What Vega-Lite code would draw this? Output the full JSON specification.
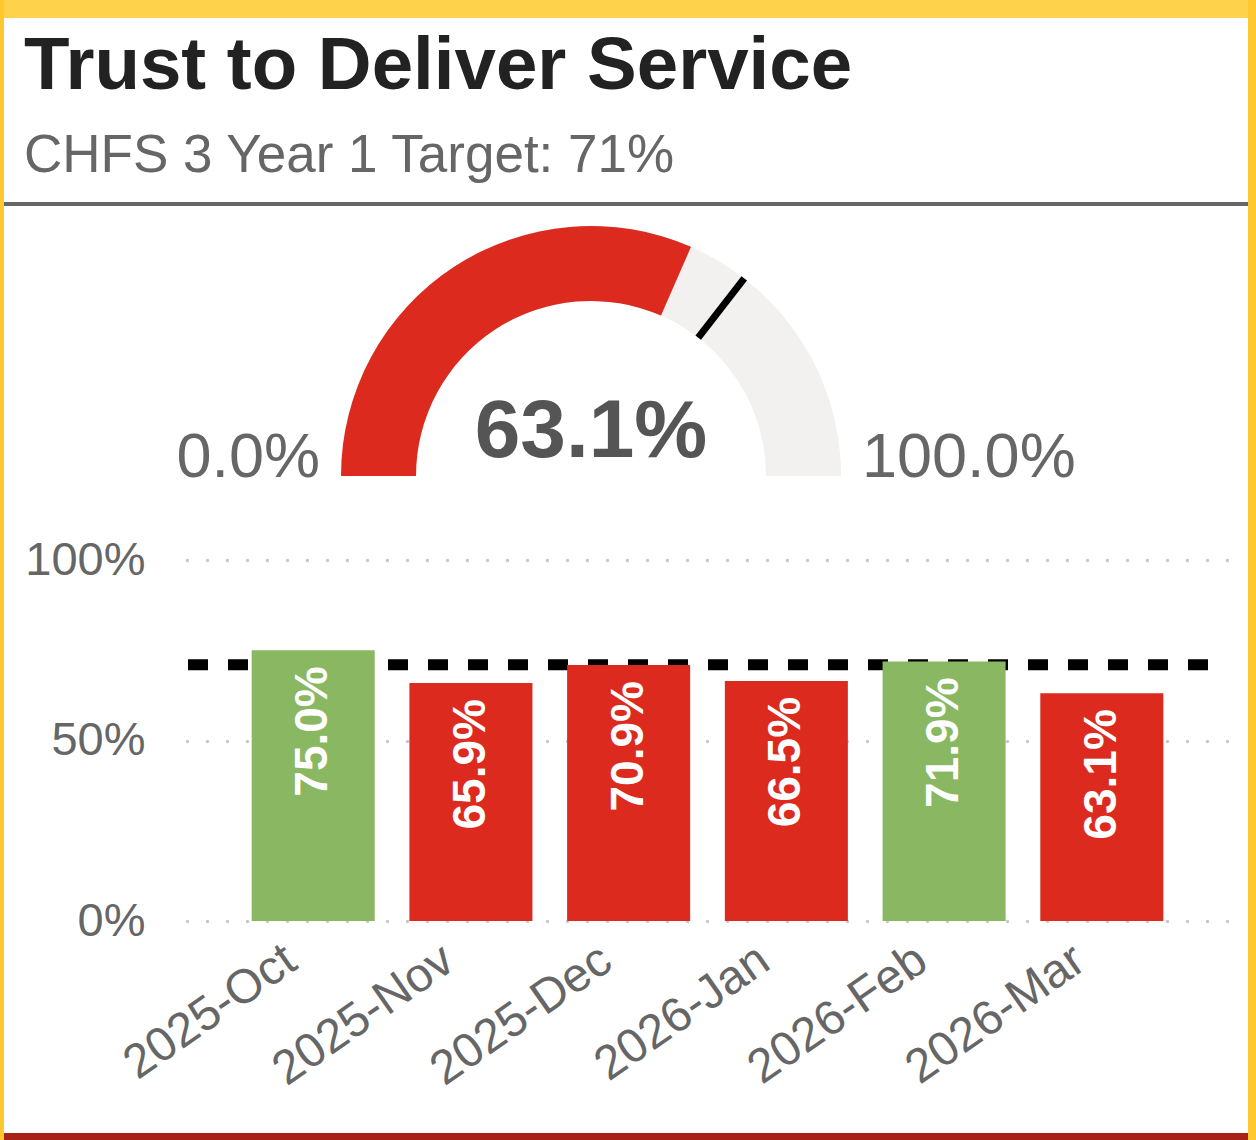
{
  "$schema": "https://vega.github.io/schema/vega-lite/v6.json",
  "padding": 0,
  "background": "#ffffff",
  "spacing": 0,
  "config": {
    "view": {"stroke": null},
    "font": "Liberation Sans",
    "concat": {"spacing": 0}
  },
  "datasets": {
    "gauge": [{"min": 0, "max": 1, "value": 0.631, "target": 0.71}],
    "monthly": [
      {"month": "2025-Oct", "value": 0.750},
      {"month": "2025-Nov", "value": 0.659},
      {"month": "2025-Dec", "value": 0.709},
      {"month": "2026-Jan", "value": 0.665},
      {"month": "2026-Feb", "value": 0.719},
      {"month": "2026-Mar", "value": 0.631}
    ],
    "blank": [{}]
  },
  "hconcat": [
    {
      "width": 4, "height": 1140,
      "data": {"name": "blank"},
      "mark": {"type": "point", "filled": true, "size": 0.01, "opacity": 0},
      "view": {"fill": "#FFC830", "stroke": null}
    },
    {
      "spacing": 0,
      "vconcat": [
        {
          "width": 1244, "height": 18,
          "data": {"name": "blank"},
          "mark": {"type": "point", "filled": true, "size": 0.01, "opacity": 0},
          "view": {"fill": "#FFD24C", "stroke": null}
        },
        {
          "width": 1244, "height": 184,
          "data": {"name": "blank"},
          "title": {
            "text": "Trust to Deliver Service",
            "subtitle": "CHFS 3 Year 1 Target: 71%",
            "anchor": "start",
            "frame": "group",
            "orient": "top",
            "baseline": "top",
            "offset": -166,
            "dx": 20,
            "font": "Liberation Sans",
            "fontSize": 74.5,
            "fontWeight": "bold",
            "color": "#222222",
            "subtitleFont": "Liberation Sans",
            "subtitleFontSize": 53,
            "subtitleColor": "#666666",
            "subtitlePadding": 26
          },
          "mark": {"type": "point", "filled": true, "size": 0.01, "opacity": 0}
        },
        {
          "width": 1244, "height": 4,
          "data": {"name": "blank"},
          "mark": {"type": "point", "filled": true, "size": 0.01, "opacity": 0},
          "view": {"fill": "#666666", "stroke": null}
        },
        {
          "width": 1244, "height": 294,
          "data": {"name": "gauge"},
          "encoding": {
            "x": {"datum": 0, "type": "quantitative", "scale": {"domain": [-1, 1], "range": [337, 837], "nice": false, "zero": false}, "axis": null},
            "y": {"datum": 0, "type": "quantitative", "scale": {"domain": [0, 1], "range": [270, 20], "nice": false, "zero": false}, "axis": null}
          },
          "layer": [
            {
              "mark": {"type": "arc", "outerRadius": 250, "innerRadius": 175, "color": "#F2F1F0"},
              "encoding": {
                "theta": {"field": "min", "type": "quantitative", "scale": {"domain": [0, 1], "range": [-1.5707963, 1.5707963]}},
                "theta2": {"field": "max"}
              }
            },
            {
              "mark": {"type": "arc", "outerRadius": 250, "innerRadius": 175, "color": "#DC2A1E"},
              "encoding": {
                "theta": {"field": "min", "type": "quantitative"},
                "theta2": {"field": "value"}
              }
            },
            {
              "mark": {"type": "arc", "outerRadius": 250, "innerRadius": 175, "filled": false, "color": "#000000", "strokeWidth": 7},
              "encoding": {
                "theta": {"field": "target", "type": "quantitative"},
                "theta2": {"field": "target"}
              }
            },
            {
              "mark": {"type": "text", "fontSize": 82, "fontWeight": "bold", "color": "#555555", "align": "center", "baseline": "alphabetic", "dy": -19},
              "encoding": {"text": {"field": "value", "type": "quantitative", "format": ".1%"}}
            },
            {
              "mark": {"type": "text", "fontSize": 63, "color": "#666666", "align": "right", "baseline": "alphabetic", "dx": -21, "dy": 1},
              "encoding": {
                "x": {"datum": -1, "type": "quantitative"},
                "text": {"field": "min", "type": "quantitative", "format": ".1%"}
              }
            },
            {
              "mark": {"type": "text", "fontSize": 63, "color": "#666666", "align": "left", "baseline": "alphabetic", "dx": 21, "dy": 1},
              "encoding": {
                "x": {"datum": 1, "type": "quantitative"},
                "text": {"field": "max", "type": "quantitative", "format": ".1%"}
              }
            }
          ]
        },
        {
          "spacing": 0,
          "bounds": "flush",
          "hconcat": [
            {
              "width": 183, "height": 633,
              "data": {"name": "blank"},
              "mark": {"type": "point", "filled": true, "size": 0.01, "opacity": 0}
            },
            {
              "width": 1041, "height": 633,
              "layer": [
                {
                  "data": {"name": "gauge"},
                  "mark": {"type": "rule", "color": "#000000", "strokeWidth": 11, "strokeDash": [20, 20], "strokeDashOffset": 20},
                  "encoding": {
                    "y": {
                      "field": "target", "type": "quantitative",
                      "scale": {"domain": [0, 1], "range": [421, 60], "nice": false, "zero": false},
                      "axis": {
                        "values": [0, 0.5, 1],
                        "format": ".0%",
                        "title": null,
                        "domain": false,
                        "ticks": false,
                        "tickSize": 0,
                        "labelPadding": 42,
                        "labelFontSize": 47,
                        "labelColor": "#666666",
                        "labelFont": "Liberation Sans",
                        "labelOverlap": false,
                        "grid": true,
                        "gridColor": "#c8c8c8",
                        "gridWidth": 3.5,
                        "gridDash": [0, 20],
                        "gridCap": "round"
                      }
                    }
                  }
                },
                {
                  "data": {"name": "monthly"},
                  "mark": {"type": "bar"},
                  "encoding": {
                    "x": {
                      "field": "month", "type": "ordinal", "sort": null,
                      "scale": {"paddingInner": 0.22, "paddingOuter": 0.41},
                      "axis": {
                        "title": null,
                        "domain": false,
                        "ticks": false,
                        "tickSize": 0,
                        "offset": -212,
                        "labelAngle": -35,
                        "labelAlign": "right",
                        "labelBaseline": "bottom",
                        "labelPadding": 54,
                        "labelOffset": -8,
                        "labelFontSize": 48,
                        "labelLimit": 0,
                        "labelColor": "#666666",
                        "labelFont": "Liberation Sans",
                        "labelOverlap": false
                      }
                    },
                    "y": {"field": "value", "type": "quantitative"},
                    "color": {
                      "condition": {"test": "datum.value >= 0.71", "value": "#8AB862"},
                      "value": "#DC2A1E"
                    }
                  }
                },
                {
                  "data": {"name": "monthly"},
                  "mark": {"type": "text", "angle": -90, "align": "right", "baseline": "middle", "dx": -16, "fontSize": 46, "fontWeight": "bold", "color": "#ffffff"},
                  "encoding": {
                    "x": {"field": "month", "type": "ordinal", "sort": null},
                    "y": {"field": "value", "type": "quantitative"},
                    "text": {"field": "value", "type": "quantitative", "format": ".1%"}
                  }
                }
              ]
            },
            {
              "width": 20, "height": 633,
              "data": {"name": "blank"},
              "mark": {"type": "point", "filled": true, "size": 0.01, "opacity": 0}
            }
          ]
        },
        {
          "width": 1244, "height": 7,
          "data": {"name": "blank"},
          "mark": {"type": "point", "filled": true, "size": 0.01, "opacity": 0},
          "view": {"fill": "#A92218", "stroke": null}
        }
      ]
    },
    {
      "width": 8, "height": 1140,
      "data": {"name": "blank"},
      "mark": {"type": "point", "filled": true, "size": 0.01, "opacity": 0},
      "view": {"fill": "#FFC830", "stroke": null}
    }
  ]
}
